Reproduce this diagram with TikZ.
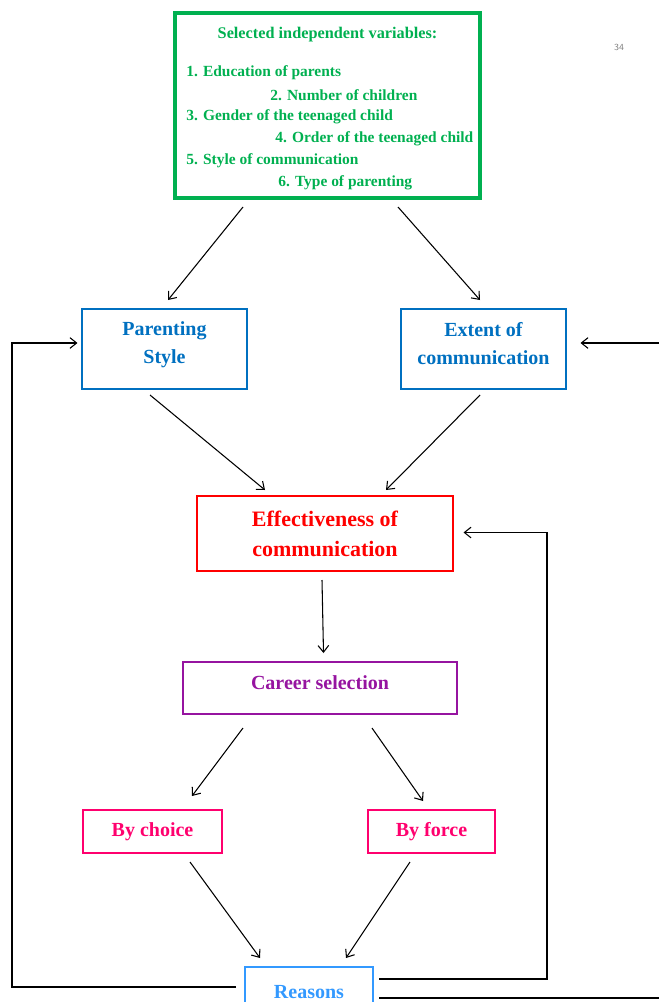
\documentclass[tikz,border=0pt]{standalone}
\usepackage{fontspec}
\setmainfont{Liberation Serif}
\usetikzlibrary{arrows.meta}

\definecolor{vargreen}{RGB}{0,176,80}
\definecolor{stepblue}{RGB}{0,112,192}
\definecolor{effred}{RGB}{255,0,0}
\definecolor{carpurple}{RGB}{150,20,160}
\definecolor{waypink}{RGB}{255,0,110}
\definecolor{reasonblue}{RGB}{51,153,255}

\begin{document}
\begin{tikzpicture}[x=0.75pt, y=-0.75pt,
    box/.style={draw, thick, align=center, inner sep=0pt, font=\fontsize{15}{21}\selectfont\bfseries},
    vline/.style={vargreen, anchor=west, inner sep=0pt, font=\fontsize{11.6}{13}\selectfont\bfseries},
    flow/.style={-{Straight Barb[length=5pt,width=8pt]}, thick}]
    \useasboundingbox (0,0) rectangle (659,1002);
    % page number
    \node[gray, font=\sffamily\fontsize{7}{8}\selectfont] (page) at (619,47) {34};
    % independent variables
    \node[draw=vargreen, line width=3pt, minimum width=305pt*0.75, minimum height=185pt*0.75] (vars) at (327.5,105.5) {};
    \node[vargreen, font=\fontsize{12.2}{14}\selectfont\bfseries] (head) at (327.5,35) {Selected independent variables:};
    \node[vline] (v1) at (186,73) {1. Education of parents};
    \node[vline] (v2) at (270,95) {2. Number of children};
    \node[vline] (v3) at (186,117) {3. Gender of the teenaged child};
    \node[vline] (v4) at (275,139) {4. Order of the teenaged child};
    \node[vline] (v5) at (186,161) {5. Style of communication};
    \node[vline] (v6) at (278,183) {6. Type of parenting};
    % second row
    \node[box, draw=stepblue, text=stepblue, minimum width=165pt*0.75, minimum height=80pt*0.75, text depth=9pt] (style) at (164.5,349) {Parenting\\Style};
    \node[box, draw=stepblue, text=stepblue, minimum width=165pt*0.75, minimum height=80pt*0.75, text depth=8pt] (extent) at (483.5,349) {Extent of\\communication};
    \draw[flow] (243,207) -- (168,300);
    \draw[flow] (398,207) -- (480,300);
    % effectiveness
    \node[box, draw=effred, text=effred, minimum width=256pt*0.75, minimum height=75pt*0.75, font=\fontsize{16.5}{22.5}\selectfont\bfseries] (eff) at (325,533.5) {Effectiveness of\\communication};
    \draw[flow] (150,395) -- (265,490);
    \draw[flow] (480,395) -- (386,490);
    % career
    \node[box, draw=carpurple, text=carpurple, minimum width=274pt*0.75, minimum height=52pt*0.75, text depth=7.5pt] (career) at (320,688) {Career selection};
    \draw[flow] (322,580) -- (323.5,653);
    % choice and force
    \node[box, draw=waypink, text=waypink, minimum width=139pt*0.75, minimum height=43pt*0.75] (choice) at (152.5,831.5) {By choice};
    \node[box, draw=waypink, text=waypink, minimum width=127pt*0.75, minimum height=43pt*0.75] (force) at (431.5,831.5) {By force};
    \draw[flow] (243,728) -- (192,796);
    \draw[flow] (372,728) -- (423,801);
    % reasons
    \node[box, draw=reasonblue, text=reasonblue, minimum width=128pt*0.75, minimum height=60pt*0.75] (reasons) at (309,997) {\raisebox{8pt}{Reasons}};
    \draw[flow] (190,862) -- (260,958);
    \draw[flow] (410,862) -- (346,958);
    % feedback loops
    \coordinate (lc) at (12,987);
    \coordinate (rc) at (547,979);
    \coordinate (fc) at (700,998);
    \draw[flow] (236,987) -- (lc) |- ([shift={(-4,-6)}]style.west);
    \draw[flow] (379,979) -- (rc) |- ([shift={(10,-1)}]eff.east);
    \draw[flow] (379,998) -- (fc) |- ([shift={(14,-6)}]extent.east);
\end{tikzpicture}
\end{document}
